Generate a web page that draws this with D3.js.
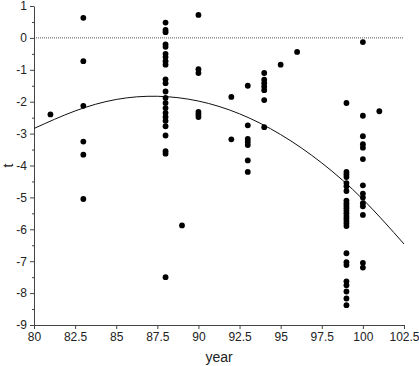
<!DOCTYPE html>
<html>
<head>
<meta charset="utf-8">
<script src="https://cdn.jsdelivr.net/npm/d3@7"></script>
<style>
  body { margin: 0; background: #fff; }
  text { font-family: "Liberation Sans", Arial, sans-serif; fill: #222; }
</style>
</head>
<body>
<div id="chart"></div>
<script>
// observations, one array per year column
let years = [81, 83, 88, 89, 90, 92, 93, 94, 95, 96, 99, 100, 101];
let tValues = [
    [-2.4],
    [0.63, -0.73, -2.13, -3.25, -3.66, -5.05],
    [0.48, 0.25, 0.18, -0.2, -0.28, -0.5, -0.6, -0.73, -0.84, -1.3, -1.42, -1.68, -1.88,
     -2.04, -2.2, -2.35, -2.48, -2.6, -2.77, -3.06, -3.55, -3.63, -7.5],
    [-5.88],
    [0.72, -0.98, -1.1, -2.32, -2.4, -2.48],
    [-1.85, -3.18],
    [-1.5, -2.74, -3.17, -3.26, -3.36, -3.84, -4.2],
    [-1.1, -1.31, -1.42, -1.53, -1.64, -1.95, -2.8],
    [-0.84],
    [-0.44],
    [-2.04, -4.2, -4.28, -4.36, -4.55, -4.65, -4.8, -5.1, -5.18, -5.26, -5.34, -5.42, -5.5,
     -5.58, -5.66, -5.74, -5.82, -5.9, -6.75, -7.03, -7.12, -7.63, -7.75, -7.95, -8.17, -8.38],
    [-0.13, -2.44, -3.08, -3.33, -3.44, -3.8, -4.62, -4.88, -5.0, -5.18, -5.28, -5.55, -7.05, -7.2],
    [-2.3]
];

// fitted curve, every 2.5 years
let curveYears = [80, 82.5, 85, 87.5, 90, 92.5, 95, 97.5, 100, 102.5];
let curveT = [-2.84, -2.29, -1.93, -1.83, -1.98, -2.38, -3.03, -3.92, -5.06, -6.46];

let xTicks = [80, 82.5, 85, 87.5, 90, 92.5, 95, 97.5, 100, 102.5];
let yTicks = [1, 0, -1, -2, -3, -4, -5, -6, -7, -8, -9];
let yMinorTicks = [0.5, -0.5, -1.5, -2.5, -3.5, -4.5, -5.5, -6.5, -7.5, -8.5];

let width = 419, height = 366;
let margin = {left: 34, right: 15, top: 6, bottom: 41};
let font = '"Liberation Sans", Arial, sans-serif';

let $svg = d3.select('#chart').append('svg')
    .attr('width', width)
    .attr('height', height);

let x = d3.scaleLinear().domain([80, 102.5]).range([margin.left, width - margin.right]);
let y = d3.scaleLinear().domain([-9, 1]).range([height - margin.bottom, margin.top]);

let points = [];
years.forEach((yr, i) => {
    tValues[i].forEach(t => points.push({year: yr, t: t}));
});

// zero reference line
$svg.append('line')
    .attr('x1', x(80)).attr('x2', x(102.5))
    .attr('y1', y(0)).attr('y2', y(0))
    .attr('stroke', '#555')
    .attr('stroke-width', 1)
    .attr('stroke-dasharray', '1,1');

// x axis
let $xAxis = $svg.append('g')
    .attr('transform', `translate(0,${y(-9)})`)
    .call(d3.axisBottom(x).tickValues(xTicks).tickSize(4).tickSizeOuter(0).tickPadding(3)
        .tickFormat(d => d3.format('')(d)));
$xAxis.selectAll('text').attr('font-size', 12).style('font-family', font);

// y axis
let $yAxis = $svg.append('g')
    .attr('transform', `translate(${x(80)},0)`)
    .call(d3.axisLeft(y).tickValues(yTicks).tickSize(4).tickSizeOuter(0).tickPadding(3)
        .tickFormat(d => d < 0 ? '-' + Math.abs(d) : d));
$yAxis.selectAll('text').attr('font-size', 12).style('font-family', font);

$svg.append('g')
    .attr('transform', `translate(${x(80)},0)`)
    .call(d3.axisLeft(y).tickValues(yMinorTicks).tickSize(2).tickFormat(''))
    .call(g => g.select('.domain').remove());

$svg.selectAll('.domain').attr('stroke', '#444');
$svg.selectAll('.tick line').attr('stroke', '#444');

// fitted curve
let line = d3.line()
    .x((d, i) => x(curveYears[i]))
    .y(d => y(d))
    .curve(d3.curveNatural);
$svg.append('path')
    .datum(curveT)
    .attr('d', line)
    .attr('fill', 'none')
    .attr('stroke', '#111')
    .attr('stroke-width', 1);

// points
$svg.append('g').selectAll('circle')
    .data(points)
    .join('circle')
    .attr('cx', d => x(d.year))
    .attr('cy', d => y(d.t))
    .attr('r', 2.9)
    .attr('fill', '#000');

// axis titles
$svg.append('text')
    .attr('x', (x(80) + x(102.5)) / 2)
    .attr('y', 362)
    .attr('text-anchor', 'middle')
    .attr('font-size', 14)
    .text('year');

$svg.append('text')
    .attr('transform', `translate(13,${(y(1) + y(-9)) / 2}) rotate(-90)`)
    .attr('text-anchor', 'middle')
    .attr('font-size', 14)
    .text('t');
</script>
</body>
</html>
